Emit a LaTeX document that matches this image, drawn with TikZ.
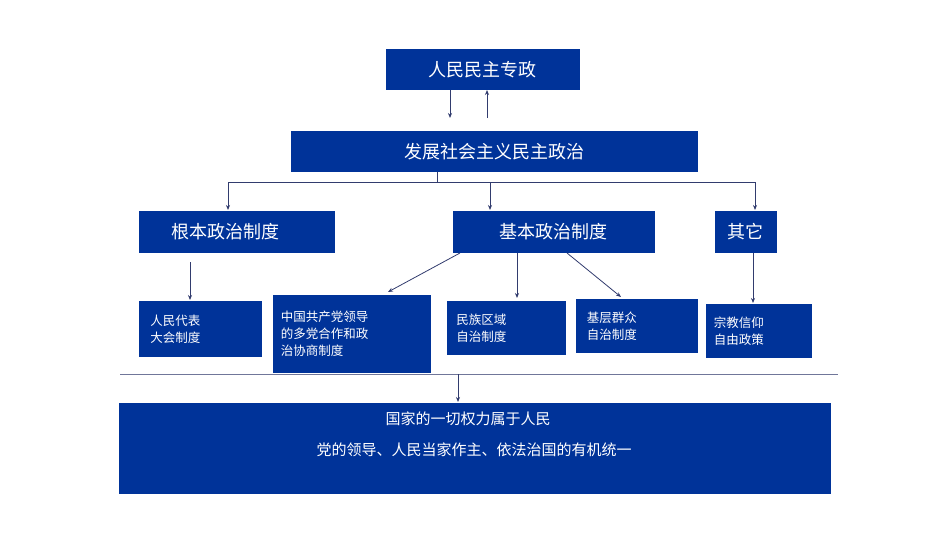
\documentclass[tikz,border=0pt]{standalone}
\usepackage{fontspec}
\setmainfont{Noto Sans CJK SC}
\usetikzlibrary{arrows.meta}
\begin{document}
\begin{tikzpicture}[x=1pt,y=-1pt,
 box/.style={fill=bl,draw=white,line width=0.8pt,text=white,inner sep=0},
 ar/.style={draw=ln,line width=0.8pt,-{Stealth[length=5pt,width=4pt]}},
 ln0/.style={draw=ln,line width=0.8pt}]
\definecolor{bl}{RGB}{0,51,153}
\definecolor{ln}{RGB}{50,60,110}
\useasboundingbox (0,0) rectangle (950,535);
\newcommand{\bx}[6]{\node[box,minimum width=#4-#2,minimum height=#5-#3,anchor=north west] (#1) at (#2,#3) {#6};}
\bx{top}{385}{48}{580}{90}{\fontsize{18}{20}\selectfont 人民民主专政}
\bx{fz}{290}{130}{698}{172}{\fontsize{18}{20}\selectfont 发展社会主义民主政治}
\bx{gb}{138}{210}{335}{253}{\fontsize{18}{20}\selectfont\hspace*{-22pt}根本政治制度}
\bx{jb}{452}{210}{655}{253}{\fontsize{18}{20}\selectfont 基本政治制度}
\bx{qt}{714}{210}{777}{253}{\fontsize{18}{20}\selectfont 其它}
\bx{rm}{138}{300}{262}{357}{\parbox{100pt}{\fontsize{12.5}{17}\selectfont 人民代表\\大会制度}}
\bx{zg}{272}{294}{431}{373}{\parbox{150pt}{\fontsize{12.5}{17}\selectfont\hspace*{4pt}中国共产党领导\\\hspace*{4pt}的多党合作和政\\\hspace*{4pt}治协商制度}}
\bx{mz}{446}{300}{566}{355}{\parbox{100pt}{\fontsize{12.5}{17}\selectfont 民族区域\\自治制度}}
\bx{jc}{575}{298}{698}{353}{\parbox{100pt}{\fontsize{12.5}{17}\selectfont 基层群众\\自治制度}}
\bx{zj}{705}{303}{812}{358}{\parbox{90pt}{\fontsize{12.5}{17}\selectfont 宗教信仰\\自由政策}}
\bx{bt}{118}{402}{831}{494}{}
\node[text=white,font=\fontsize{15}{18}\selectfont] (t1) at (468,419) {国家的一切权力属于人民};
\node[text=white,font=\fontsize{15}{18}\selectfont] (t2) at (474,450) {党的领导、人民当家作主、依法治国的有机统一};
\coordinate (a1) at (450,90); \coordinate (a2) at (450,118);
\coordinate (b1) at (487,118); \coordinate (b2) at (487,90);
\draw[ar] (a1) -- (a2); \draw[ar] (b1) -- (b2);
\coordinate (c0) at (437,172); \coordinate (c1) at (437,182);
\coordinate (cl) at (228,182); \coordinate (cr) at (755,182); \coordinate (cm) at (490,182);
\draw[ln0] (c0) -- (c1); \draw[ln0] (cl) -- (cr);
\draw[ar] (cl) -- (228,210); \draw[ar] (cm) -- (490,210); \draw[ar] (cr) -- (755,210);
\draw[ar] (190,262) -- (190,300);
\draw[ar] (460,253) -- (388,292);
\draw[ar] (517,253) -- (517,298);
\draw[ar] (567,253) -- (621,297);
\draw[ar] (753,253) -- (753,303);
\coordinate (h1) at (120,374); \coordinate (h2) at (838,374);
\draw[draw=ln!70,line width=0.8pt] (h1) -- (h2);
\draw[ar] (458,374) -- (458,402);
\end{tikzpicture}
\end{document}
